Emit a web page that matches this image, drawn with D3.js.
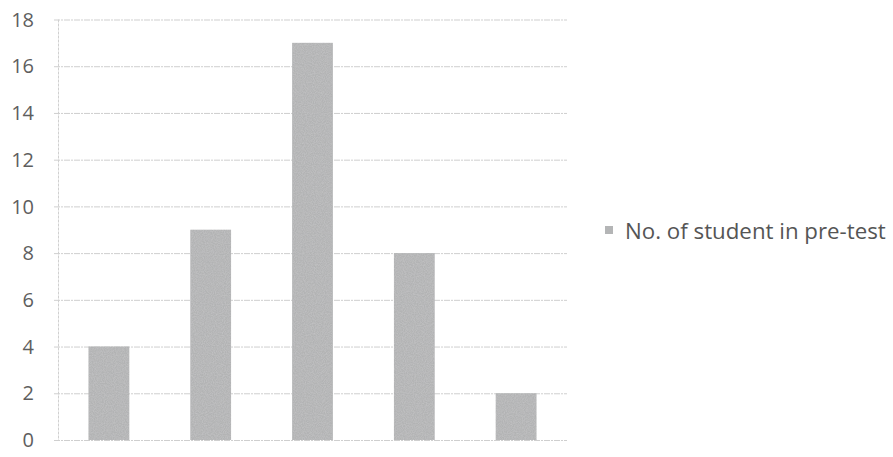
<!DOCTYPE html>
<html><head><meta charset="utf-8">
<script src="https://cdn.jsdelivr.net/npm/d3@7"></script>
<style>
html,body{margin:0;padding:0;background:#fff;}
svg{display:block;}
</style></head>
<body>
<svg id="chart" width="893" height="457"></svg>
<script>
const categories = ["1", "2", "3", "4", "5"];
const values = [4, 9, 17, 8, 2];
const yTicks = [0, 2, 4, 6, 8, 10, 12, 14, 16, 18];
const seriesName = "No. of student in pre-test";

const svg = d3.select("#chart");
const margin = {left: 58, right: 326, top: 19.5, bottom: 17};
const W = 893, H = 457;
const x = d3.scaleBand().domain(categories)
  .range([margin.left, W - margin.right]).paddingInner(0.6).paddingOuter(0.3);
const y = d3.scaleLinear().domain([0, 18]).range([H - margin.bottom, margin.top]);

const font = "'Open Sans', 'Liberation Sans', sans-serif";

// textured gray fill
const defs = svg.append("defs");
const filt = defs.append("filter").attr("id","grain").attr("x",0).attr("y",0).attr("width",1).attr("height",1);
filt.append("feTurbulence").attr("type","fractalNoise").attr("baseFrequency",0.9).attr("numOctaves",2).attr("seed",3).attr("result","n");
filt.append("feColorMatrix").attr("in","n").attr("type","matrix")
  .attr("values","0 0 0 0 0.55  0 0 0 0 0.55  0 0 0 0 0.56  0 0 0 1.4 -0.4").attr("result","m");
filt.append("feComposite").attr("in","m").attr("in2","SourceGraphic").attr("operator","in").attr("result","c");
const fm = filt.append("feMerge");
fm.append("feMergeNode").attr("in","SourceGraphic");
fm.append("feMergeNode").attr("in","c");

// gridlines
svg.append("g").selectAll("line").data(yTicks).join("line")
  .attr("x1", margin.left - 4).attr("x2", W - margin.right)
  .attr("y1", d => y(d) + 0.5).attr("y2", d => y(d) + 0.5)
  .attr("stroke", "#cfcfcf").attr("stroke-width", 1)
  .attr("stroke-dasharray", "6,1,2,1");

// left axis line
svg.append("line").attr("x1", margin.left + 0.5).attr("x2", margin.left + 0.5)
  .attr("y1", y(18)).attr("y2", y(0))
  .attr("stroke", "#d0d0d0").attr("stroke-dasharray", "3,1");

// y labels
svg.append("g").selectAll("text").data(yTicks).join("text")
  .attr("x", 34).attr("y", d => y(d)).attr("dy", "0.36em")
  .attr("text-anchor", "end").attr("font-family", font).attr("font-size", 20)
  .attr("fill", "#5e5e5e").text(d => d);

// bars
svg.append("g").selectAll("rect").data(values).join("rect")
  .attr("x", (d, i) => x(categories[i])).attr("width", x.bandwidth())
  .attr("y", d => y(d)).attr("height", d => y(0) - y(d))
  .attr("fill", "#b2b3b4").attr("filter", "url(#grain)");

// legend
const lg = svg.append("g");
lg.append("rect").attr("x", 605).attr("y", 226).attr("width", 8).attr("height", 8)
  .attr("fill", "#b4b5b6");
const lt = lg.append("text").attr("x", 625).attr("y", 231).attr("dy", "0.35em")
  .attr("font-family", font).attr("font-size", 19).attr("fill", "#555")
  .text(seriesName);
const w = lt.node().getComputedTextLength();
lt.attr("font-size", 19 * 261 / w);
</script>
</body></html>
